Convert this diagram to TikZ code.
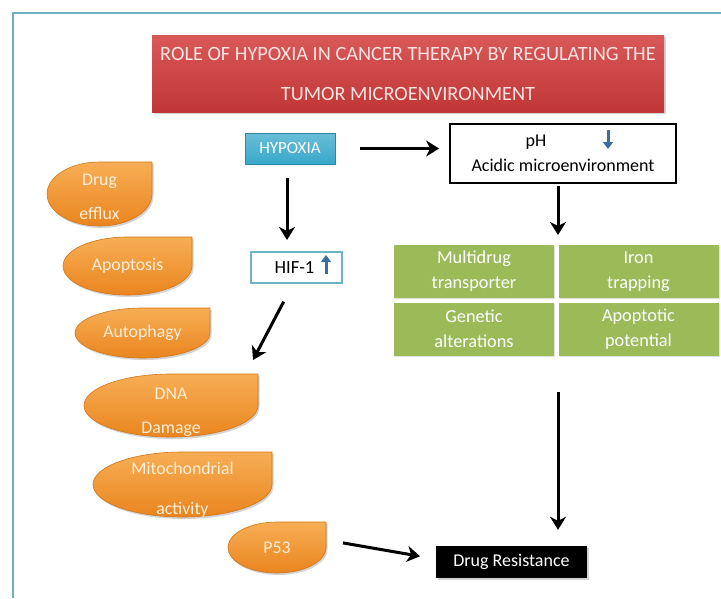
\documentclass[tikz,border=0pt]{standalone}
\usepackage{fontspec}
\setmainfont{Carlito}
\usetikzlibrary{positioning}
\usetikzlibrary{arrows.meta}
\usetikzlibrary{shadows}
\definecolor{framecol}{HTML}{72AFC0}
\definecolor{titlered}{HTML}{D23B3B}
\definecolor{titletext}{HTML}{FBE4E2}
\definecolor{hypblue}{HTML}{38A8CB}
\definecolor{hifline}{HTML}{6DB4C4}
\definecolor{cellgreen}{HTML}{9BBB59}
\definecolor{leaftop}{HTML}{F7AE55}
\definecolor{leafbot}{HTML}{EA851F}
\definecolor{leafline}{HTML}{D27516}
\definecolor{leaftext}{HTML}{FDEFD9}
\definecolor{smallblue}{HTML}{3B6E9E}
\tikzset{
    arr/.style={draw=black, line width=3pt, -{Stealth[length=13pt,width=16pt,inset=4pt]}},
    uparr/.style={draw=smallblue, line width=3pt, -{Triangle[length=7pt,width=10pt]}},
    titlebox/.style={top color=titlered!85!white, bottom color=titlered!92!black,
        text=titletext, minimum width=512pt, minimum height=77pt,
        inner sep=0pt, align=center, font=\fontsize{20.3}{40}\selectfont,
        drop shadow={opacity=.35, shadow xshift=1.5pt, shadow yshift=-1.5pt}},
    hypbox/.style={top color=hypblue!75!white, bottom color=hypblue, draw=hypblue!80!black,
        line width=.4pt, text=white, minimum width=90pt, minimum height=31pt, inner sep=0pt,
        font=\fontsize{17}{20}\selectfont,
        drop shadow={opacity=.3, shadow xshift=1pt, shadow yshift=-1pt}},
    phbox/.style={draw=black, line width=1.8pt, minimum width=226pt, minimum height=59pt,
        inner sep=0pt, align=center, font=\fontsize{18}{25}\selectfont},
    hifbox/.style={draw=hifline, line width=1.8pt, minimum width=91pt, minimum height=31pt,
        inner sep=0pt, font=\fontsize{18.5}{20}\selectfont},
    cell/.style={fill=cellgreen, text=white, minimum width=160pt, minimum height=53pt,
        inner sep=0pt, align=center, font=\fontsize{18.3}{25}\selectfont,
        drop shadow={opacity=.25, shadow xshift=1pt, shadow yshift=-1pt}},
    resbox/.style={fill=black, text=white, minimum width=151pt, minimum height=32pt,
        inner sep=0pt, font=\fontsize{18}{20}\selectfont,
        drop shadow={opacity=.35, shadow xshift=1.5pt, shadow yshift=-1.5pt}},
    leaf/.style={top color=leaftop, bottom color=leafbot, draw=leafline, line width=.6pt,
        drop shadow={opacity=.35, shadow xshift=1.5pt, shadow yshift=-2pt}},
    leaftext/.style={text=leaftext, inner sep=0pt, align=center,
        font=\fontsize{17.8}{34}\selectfont},
}
% leaf: [node options]{name}{left}{top}{right}{bottom}{text}
\newcommand{\leafnode}[7][]{%
    \pgfmathsetmacro{\lw}{(#5-#3)/2}%
    \pgfmathsetmacro{\lh}{(#6-#4)/2}%
    \draw[leaf] (#5,#4) -- (#5,#4+\lh) arc[start angle=0, end angle=270, x radius=\lw, y radius=\lh] -- cycle;
    \node[leaftext, minimum width=\lw*2pt, minimum height=\lh*2pt, #1] (#2) at (#3+\lw,#4+\lh) {#7};
}

\begin{document}
\begin{tikzpicture}[x=1pt, y=-1pt]
    \useasboundingbox (0,0) rectangle (721,598);
    \draw[framecol, line width=1.5pt] (13,598) -- (13,13) -- (721,13);

    \node[titlebox] (title) at (408,73.5) {ROLE OF HYPOXIA IN CANCER THERAPY BY REGULATING THE\\TUMOR MICROENVIRONMENT};

    \node[hypbox] (hyp) at (290,148.5) {HYPOXIA};
    \node[phbox] (ph) at (563,153.5) {pH\hspace*{54pt}\\Acidic microenvironment};
    \node[hifbox] (hif) at (296.5,267.5) {HIF-1\hspace*{4pt}};

    % small up/down arrows
    \draw[uparr] (608,130) -- (608,149);
    \draw[uparr] (326,274) -- (326,255);

    % green grid
    \node[cell] (multi) at (474,271.5) {Multidrug\\transporter};
    \node[cell] (iron) at (638.5,271.5) {Iron\\trapping};
    \node[cell] (gene) at (474,329) {Genetic\\alterations};
    \node[cell] (apopot) at (638.5,329) {Apoptotic\\potential};

    \node[resbox] (res) at (511.5,562) {Drug Resistance};

    % orange leaves
    \leafnode[yshift=-3pt]{efflux}{47}{162}{152}{226}{Drug\\efflux}
    \leafnode{apop}{63}{237}{192}{295}{Apoptosis}
    \leafnode{auto}{75}{308}{210}{358}{Autophagy}
    \leafnode[yshift=-7pt]{dna}{84}{374}{258}{437}{DNA\\Damage}
    \leafnode[yshift=-5pt]{mito}{93}{452}{272}{517}{Mitochondrial\\[6pt]activity}
    \leafnode{p53}{228}{522}{326}{573}{P53}

    \coordinate (dnatip) at (253,360);

    \draw[arr, shorten <=25pt, shorten >=10pt] (hyp.east) -- (hyp.east -| ph.west);
    \draw[arr, shorten <=14pt, shorten >=12pt] (287,164) -- (287,252);
    \draw[arr, shorten <=2pt, shorten >=8pt] (ph.south -| 558,0) -- (558,243);
    \draw[arr, shorten <=20pt] (hif.south -| 293,0) -- (dnatip);
    \draw[arr, shorten <=35pt, shorten >=16pt] (558,357) -- (res.north -| 558,0);
    \draw[arr, shorten <=17pt, shorten >=16pt] (p53.east |- 0,540) -- (res.west |- 0,559);
\end{tikzpicture}
\end{document}
